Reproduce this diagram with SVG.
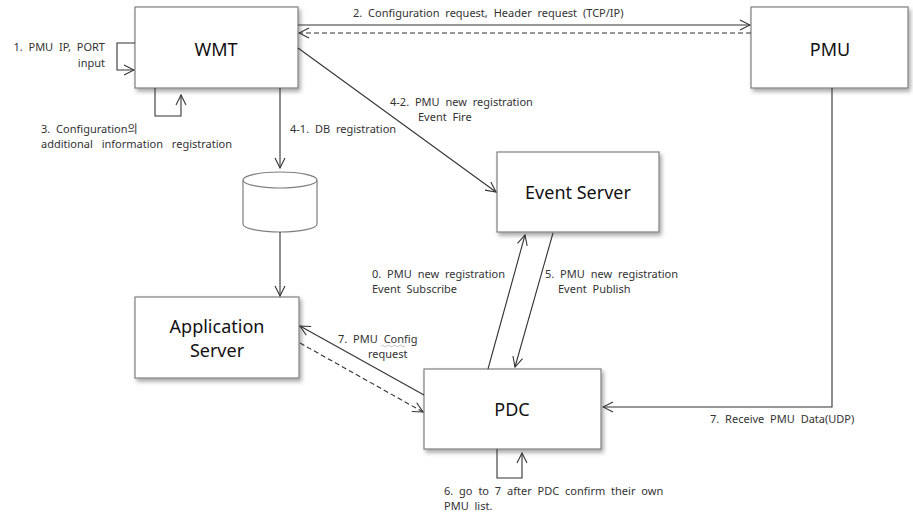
<svg xmlns="http://www.w3.org/2000/svg" width="913" height="518" viewBox="0 0 913 518">
<style>
.box{fill:#fff;stroke:#7f7f7f;stroke-width:1.2;filter:url(#sh)}
.t{font-family:"Noto Sans","Liberation Sans",sans-serif;font-size:18px;fill:#111;text-anchor:middle}
.l{font-family:"Noto Sans","Noto Sans CJK KR","Liberation Sans",sans-serif;font-size:11px;fill:#333;word-spacing:3px}
.c{fill:none;stroke:#333;stroke-width:1.1}
.d{stroke-dasharray:5,3}
</style>
<defs>
<filter id="sh" x="-10%" y="-10%" width="125%" height="135%">
<feDropShadow dx="2" dy="3" stdDeviation="2" flood-color="#000" flood-opacity="0.35"/>
</filter>
<marker id="a" viewBox="0 0 12 12" refX="11" refY="6" markerWidth="12" markerHeight="12" markerUnits="userSpaceOnUse" orient="auto">
<path d="M1,1 L11,6 L1,11" fill="none" stroke="#333" stroke-width="1.1"/>
</marker>
</defs>
<g id="wmt"><rect class="box" x="135" y="7" width="163" height="81"/><text class="t" x="216" y="56">WMT</text></g>
<g id="pmu"><rect class="box" x="751" y="7" width="157" height="81"/><text class="t" x="830" y="56">PMU</text></g>
<g id="event-server"><rect class="box" x="497" y="152" width="162" height="80"/><text class="t" x="578" y="199">Event Server</text></g>
<g id="app-server"><rect class="box" x="135" y="297" width="164" height="81"/><text class="t" x="217" y="333">Application</text><text class="t" x="217" y="357">Server</text></g>
<g id="pdc"><rect class="box" x="424" y="369" width="177" height="80"/><text class="t" x="512" y="416">PDC</text></g>
<g id="db"><path d="M243,180 L243,224 A37,8 0 0 0 317,224 L317,180" fill="#fff" stroke="#7f7f7f" stroke-width="1.2"/><ellipse cx="280" cy="180" rx="37" ry="8" fill="#fff" stroke="#7f7f7f" stroke-width="1.2"/></g>
<g id="connectors">
<path class="c" d="M135,43 H117 V70 H134" marker-end="url(#a)"/>
<path class="c" d="M155,88 V116 H181 V95" marker-end="url(#a)"/>
<path class="c" d="M298,25 H750" marker-end="url(#a)"/>
<path class="c d" d="M751,33 H299" marker-end="url(#a)"/>
<path class="c" d="M280,88 V168" marker-end="url(#a)"/>
<path class="c" d="M298,48 L496,192" marker-end="url(#a)"/>
<path class="c" d="M280,232 V296" marker-end="url(#a)"/>
<path class="c" d="M488,369 L525,235" marker-end="url(#a)"/>
<path class="c" d="M553,233 L515,367" marker-end="url(#a)"/>
<path class="c" d="M424,395 L300,326" marker-end="url(#a)"/>
<path class="c d" d="M300,343 L423,412" marker-end="url(#a)"/>
<path class="c" d="M832,88 V407 H603" marker-end="url(#a)"/>
<path class="c" d="M497,449 V478 H522 V453" marker-end="url(#a)"/>
</g>
<g id="labels">
<text class="l" x="105" y="51" text-anchor="end">1. PMU IP,  PORT</text>
<text class="l" x="105" y="67" text-anchor="end">input</text>
<text class="l" x="41" y="133">3. Configuration의</text>
<text class="l" x="41" y="148" style="word-spacing:6px">additional  information  registration</text>
<text class="l" x="353" y="17">2. Configuration  request,  Header  request  (TCP/IP)</text>
<text class="l" x="290" y="133">4-1. DB registration</text>
<text class="l" x="390" y="106">4-2. PMU  new  registration</text>
<text class="l" x="418" y="121">Event  Fire</text>
<text class="l" x="372" y="278">0. PMU  new  registration</text>
<text class="l" x="372" y="293">Event  Subscribe</text>
<text class="l" x="545" y="278">5. PMU  new  registration</text>
<text class="l" x="558" y="293">Event  Publish</text>
<text class="l" x="338" y="343">7. PMU  Config</text>
<path d="M381,346 q1.5,-1.5 3,0 t3,0 t3,0 t3,0 t3,0 t3,0 t3,0 t3,0" fill="none" stroke="#999" stroke-width="0.6"/>
<text class="l" x="368" y="358">request</text>
<text class="l" x="710" y="423">7. Receive  PMU  Data(UDP)</text>
<text class="l" x="444" y="495">6. go to 7 after  PDC  confirm  their  own</text>
<text class="l" x="444" y="510">PMU  list.</text>
</g>
</svg>
